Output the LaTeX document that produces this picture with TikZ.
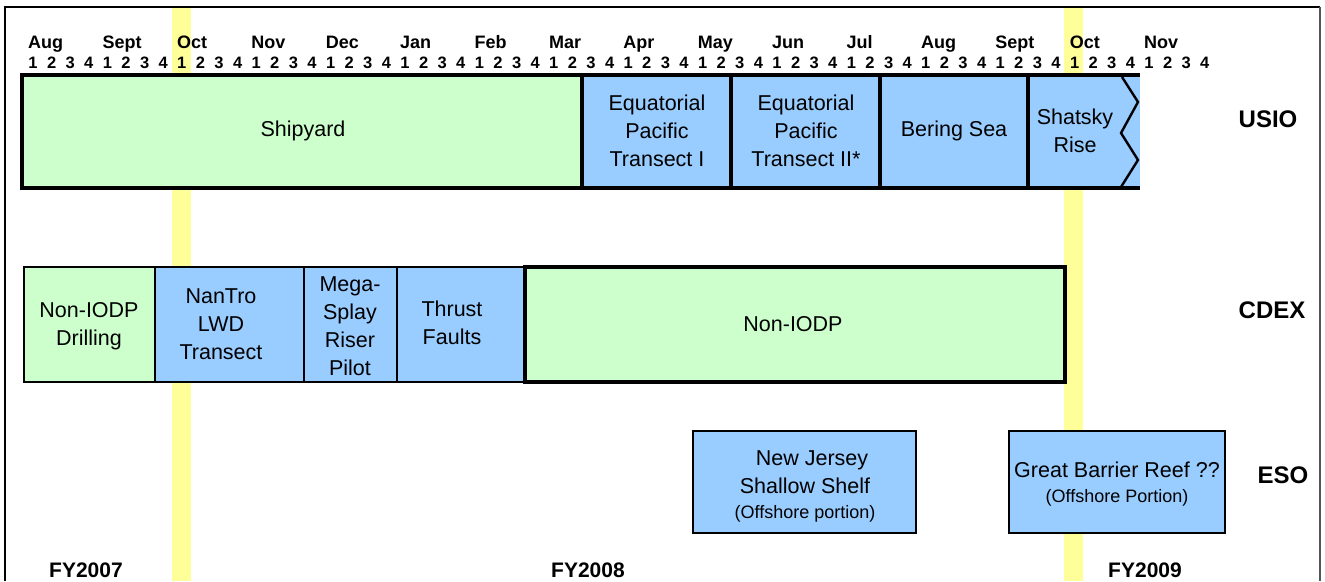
\documentclass[tikz,border=0pt]{standalone}
\usepackage{fontspec}
\setmainfont{Liberation Sans}
\definecolor{grn}{HTML}{CCFFCC}
\definecolor{blu}{HTML}{99CCFF}
\definecolor{ylw}{HTML}{FFFF99}
\definecolor{frm}{HTML}{555555}
\begin{document}
\begin{tikzpicture}[x=1pt,y=-1pt,
  box/.style={rectangle, inner sep=0pt, outer sep=0pt, anchor=north west},
  thin/.style={box, draw, line width=1.3pt},
  thick/.style={box, draw, line width=3.6pt},
  txt/.style={inner sep=0pt, align=center, font=\fontsize{21.5}{28}\selectfont},
  mon/.style={inner sep=0pt, anchor=base west, font=\fontsize{18}{20}\selectfont\bfseries},
  num/.style={inner sep=0pt, anchor=base, font=\fontsize{16.5}{18}\selectfont\bfseries},
  row/.style={inner sep=0pt, font=\fontsize{24}{26}\selectfont\bfseries},
  fy/.style={inner sep=0pt, font=\fontsize{21}{23}\selectfont\bfseries}]
\useasboundingbox (0,0) rectangle (1325,581);
% highlight stripes
\fill[ylw] (172,8) rectangle (191,581);
\fill[ylw] (1064,8) rectangle (1083,581);
% frame
\draw[line width=2pt] (5,581) -- (5,7) -- (1320,7);
\draw[line width=1.5pt, frm] (1320,7) -- (1320,581);
% timeline
\foreach \m [count=\k from 0] in {Aug,Sept,Oct,Nov,Dec,Jan,Feb,Mar,Apr,May,Jun,Jul,Aug,Sept,Oct,Nov}
  {\node[mon] (m\k) at ({28+74.4*\k},48) {\m};}
\foreach \i in {0,...,63}
  {\pgfmathtruncatemacro\w{mod(\i,4)+1}\node[num] (w\i) at ({33+18.6*\i},68) {\w};}
% USIO row
\node[box, fill=blu, minimum width=112pt, minimum height=113pt] (shat) at (1028,75) {};
\draw[line width=3.6pt] (1140,75) -- (1028,75) -- (1028,188) -- (1140,188);
\draw[line width=2.4pt] (1122,77) -- (1138,102) -- (1121,133) -- (1138,160) -- (1121,187);
\node[thick, fill=grn, minimum width=560pt, minimum height=113pt] (ship) at (22,75) {};
\node[thick, fill=blu, minimum width=149pt, minimum height=113pt] (eq1) at (582,75) {};
\node[thick, fill=blu, minimum width=149pt, minimum height=113pt] (eq2) at (731,75) {};
\node[thick, fill=blu, minimum width=148pt, minimum height=113pt] (ber) at (880,75) {};
\node[txt] (tship) at (303,131) {Shipyard};
\node[txt] (teq1) at (657,131) {Equatorial\\Pacific\\Transect I};
\node[txt] (teq2) at (806,131) {Equatorial\\Pacific\\Transect II*};
\node[txt] (tber) at (954,131) {Bering Sea};
\node[txt] (tshat) at (1075,131) {Shatsky\\Rise};
% CDEX row
\node[thin, fill=grn, minimum width=131pt, minimum height=115pt] (nid) at (24,267) {};
\node[thin, fill=blu, minimum width=149pt, minimum height=115pt] (nan) at (155,267) {};
\node[thin, fill=blu, minimum width=93pt, minimum height=115pt] (meg) at (304,267) {};
\node[thin, fill=blu, minimum width=128pt, minimum height=115pt] (thr) at (397,267) {};
\node[thick, fill=grn, minimum width=540pt, minimum height=115pt] (non) at (525,267) {};
\node[txt] (tnid) at (89,326) {Non-IODP\\Drilling};
\node[txt] (tnan) at (221,324) {NanTro\\LWD\\Transect};
\node[txt] (tmeg) at (350,326) {Mega-\\Splay\\Riser\\Pilot};
\node[txt] (tthr) at (452,323) {Thrust\\Faults};
\node[txt] (tnon) at (793,324) {Non-IODP};
% ESO row
\node[thin, fill=blu, minimum width=223pt, minimum height=102pt] (nj) at (693,431) {};
\node[thin, fill=blu, minimum width=216pt, minimum height=102pt] (gbr) at (1009,431) {};
\node[txt] (tnj) at (805,486) {\hspace*{14pt}New Jersey\\Shallow Shelf\\[-3pt]{\fontsize{18}{22}\selectfont(Offshore portion)}};
\node[txt] (tgbr) at (1117,484.5) {Great Barrier Reef ??\\[-3pt]{\fontsize{18}{22}\selectfont(Offshore Portion)}};
% row labels
\node[row] (usio) at (1268,119) {USIO};
\node[row] (cdex) at (1272,310) {CDEX};
\node[row] (eso) at (1283,475) {ESO};
% fiscal years
\node[fy] (fy7) at (86,570) {FY2007};
\node[fy] (fy8) at (588,570) {FY2008};
\node[fy] (fy9) at (1145,570) {FY2009};
\end{tikzpicture}
\end{document}
